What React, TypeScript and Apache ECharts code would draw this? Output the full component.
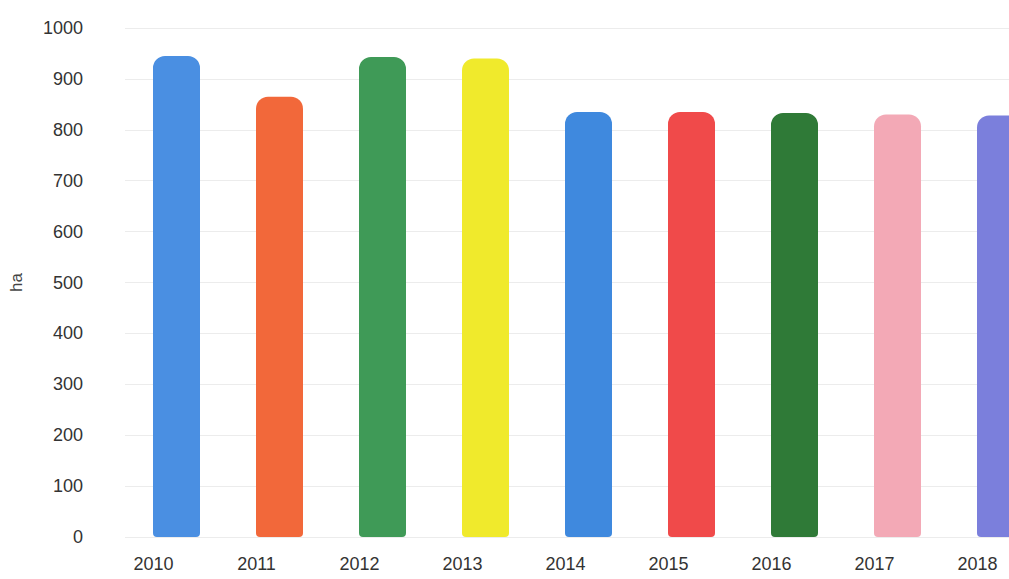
import React, { useEffect, useRef } from "react";
import * as echarts from "echarts";

const years = ["2010", "2011", "2012", "2013", "2014", "2015", "2016", "2017", "2018"];
const hectares = [945, 865, 943, 940, 835, 835, 833, 830, 828];
const barColors = ["#4a8fe2", "#f2683a", "#3f9a57", "#f0ea2c", "#3f89de", "#f04a4a", "#2f7a37", "#f3a9b6", "#7b7fdc"];
const yTicks = { min: 0, max: 1000, interval: 100 };
const yName = "ha";

const FONT = "'Liberation Sans Narrow', 'Liberation Sans', Arial, sans-serif";

export default function App() {
  const ref = useRef<HTMLDivElement>(null);
  useEffect(() => {
    if (!ref.current) return;
    const chart = echarts.init(ref.current, null, { renderer: "svg" });
    chart.setOption({
      animation: false,
      backgroundColor: "#ffffff",
      grid: { left: 121, right: 0, top: 28, bottom: 42 },
      xAxis: {
        type: "category",
        data: years,
        boundaryGap: true,
        axisLine: { show: false },
        axisTick: { show: false },
        axisLabel: {
          color: "#333",
          fontSize: 18,
          fontFamily: FONT,
          margin: 18,
          padding: [0, 46, 0, 0],
        },
      },
      yAxis: {
        type: "value",
        min: yTicks.min,
        max: yTicks.max,
        interval: yTicks.interval,
        name: yName,
        nameLocation: "middle",
        nameGap: 100,
        nameTextStyle: { color: "#444", fontSize: 17, fontFamily: FONT },
        axisLine: { show: false },
        axisTick: { show: false },
        axisLabel: {
          color: "#333",
          fontSize: 18,
          fontFamily: FONT,
          margin: 42,
          formatter: (v: number) => String(v),
        },
        splitLine: { lineStyle: { color: "#ececec", width: 1 } },
      },
      series: [
        {
          type: "bar",
          barWidth: 47,
          data: hectares.map((v, i) => ({
            value: v,
            itemStyle: { color: barColors[i], borderRadius: [12, 12, 4, 4] },
          })),
        },
      ],
    });
    return () => chart.dispose();
  }, []);
  return (
    <div
      style={{
        position: "fixed",
        left: 0,
        top: 0,
        width: 1009,
        height: 579,
        overflow: "hidden",
        background: "#fff",
      }}
    >
      <div ref={ref} style={{ width: 1052, height: 579 }} />
    </div>
  );
}
